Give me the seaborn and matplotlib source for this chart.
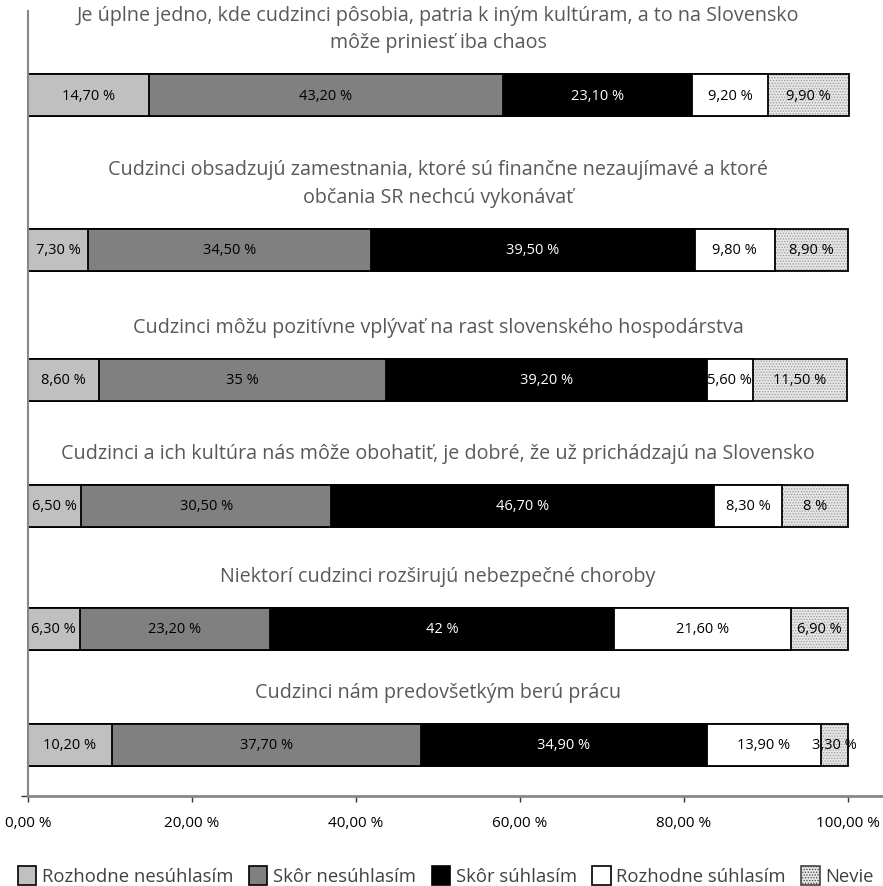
import pandas as pd
import matplotlib
matplotlib.use("Agg")
import matplotlib.pyplot as plt
import seaborn as sns
from matplotlib.patches import Patch

sns.set_style("white")
plt.rcParams['font.family'] = ['Open Sans', 'DejaVu Sans']
plt.rcParams['hatch.linewidth'] = 0.6

# Data
statements = [
    "Je úplne jedno, kde cudzinci pôsobia, patria k iným kultúram, a to na Slovensko\nmôže priniesť iba chaos",
    "Cudzinci obsadzujú zamestnania, ktoré sú finančne nezaujímavé a ktoré\nobčania SR nechcú vykonávať",
    "Cudzinci môžu pozitívne vplývať na rast slovenského hospodárstva",
    "Cudzinci a ich kultúra nás môže obohatiť, je dobré, že už prichádzajú na Slovensko",
    "Niektorí cudzinci rozširujú nebezpečné choroby",
    "Cudzinci nám predovšetkým berú prácu",
]
categories = ['Rozhodne nesúhlasím', 'Skôr nesúhlasím', 'Skôr súhlasím', 'Rozhodne súhlasím', 'Nevie']
rozhodne_nesuhlasim = [14.7, 7.3, 8.6, 6.5, 6.3, 10.2]
skor_nesuhlasim = [43.2, 34.5, 35, 30.5, 23.2, 37.7]
skor_suhlasim = [23.1, 39.5, 39.2, 46.7, 42, 34.9]
rozhodne_suhlasim = [9.2, 9.8, 5.6, 8.3, 21.6, 13.9]
nevie = [9.9, 8.9, 11.5, 8, 6.9, 3.3]
x_ticks = [0, 20, 40, 60, 80, 100]

# layout (row centres, pixel units from the top of the figure)
row_pos = [96, 251, 381, 507, 630, 746]
bar_h = 42
colors = ['#c0c0c0', '#808080', '#000000', '#ffffff', '#e6e6e6']
label_colors = ['black', 'black', 'white', 'black', 'black']

series = [rozhodne_nesuhlasim, skor_nesuhlasim, skor_suhlasim, rozhodne_suhlasim, nevie]
rows = []
for cat, vals in zip(categories, series):
    for i, v in enumerate(vals):
        rows.append({'cat': cat, 'row': row_pos[i], 'idx': i, 'value': v})
df = pd.DataFrame(rows)
df['left'] = df.groupby('idx')['value'].cumsum() - df['value']
df['right'] = df['left'] + df['value']


def fmt(v):
    s = f"{v:.0f}" if float(v).is_integer() else f"{v:.2f}".replace('.', ',')
    return s + ' %'


fig = plt.figure(figsize=(8.83, 8.87), dpi=100)
W, H = 883, 887
x0, x100, y_top, y_axis = 28, 848, 12, 797
ax = fig.add_axes([x0 / W, (H - y_axis) / H, (W - x0) / W, (y_axis - y_top) / H])

min_gap = min(b - a for a, b in zip(row_pos[:-1], row_pos[1:]))
width = bar_h / min_gap

# stacked bars: draw cumulative right edges from the last category back
for k in range(len(categories) - 1, -1, -1):
    sub = df[df['cat'] == categories[k]]
    if categories[k] == 'Nevie':
        sns.barplot(data=sub, x='right', y='row', orient='h', native_scale=True,
                    width=width, color=colors[k], saturation=1, errorbar=None,
                    edgecolor='#9a9a9a', linewidth=0, hatch='......', ax=ax)
        sns.barplot(data=sub, x='right', y='row', orient='h', native_scale=True,
                    width=width, color='black', fill=False, saturation=1,
                    errorbar=None, linewidth=1.3, ax=ax)
    else:
        sns.barplot(data=sub, x='right', y='row', orient='h', native_scale=True,
                    width=width, color=colors[k], saturation=1, errorbar=None,
                    edgecolor='black', linewidth=1.3, ax=ax)

for _, r in df.iterrows():
    k = categories.index(r['cat'])
    ax.text(r['left'] + r['value'] / 2, r['row'], fmt(r['value']),
            ha='center', va='center', fontsize=10.5, color=label_colors[k])

for i, s in enumerate(statements):
    ax.text(50, row_pos[i] - 43, s, ha='center', va='bottom', fontsize=14.2,
            color='#595959', linespacing=1.5)

ax.set_xlim(0, 100 * (W - x0) / (x100 - x0))
ax.set_ylim(y_axis, y_top)
ax.set_xticks(x_ticks)
ax.set_xticklabels([f"{t:.2f}".replace('.', ',') + ' %' for t in x_ticks])
ax.set_yticks([y_axis])
ax.set_yticklabels([''])
ax.set_xlabel('')
ax.set_ylabel('')
for side in ['top', 'right']:
    ax.spines[side].set_visible(False)
ax.spines['left'].set_color('#878787')
ax.spines['left'].set_linewidth(1.5)
ax.spines['bottom'].set_color('#878787')
ax.spines['bottom'].set_linewidth(2)
ax.tick_params(axis='x', direction='out', length=4, width=1, color='#333333',
               pad=10, labelsize=11, labelcolor='black', bottom=True)
ax.tick_params(axis='y', direction='out', length=5, width=1, color='#333333', left=True)

handles = []
for k, cat in enumerate(categories):
    if cat == 'Nevie':
        handles.append(Patch(facecolor=colors[k], edgecolor='#444444', hatch='......', linewidth=1.2))
    else:
        handles.append(Patch(facecolor=colors[k], edgecolor='black', linewidth=1.2))
fig.legend(handles, categories, loc='lower center', bbox_to_anchor=(0.505, -0.018),
           ncol=5, frameon=False, fontsize=13.3, handlelength=1.0, handleheight=1.2,
           handletextpad=0.3, columnspacing=0.85, labelcolor='#404040')

fig.savefig('out.png', dpi=100)
